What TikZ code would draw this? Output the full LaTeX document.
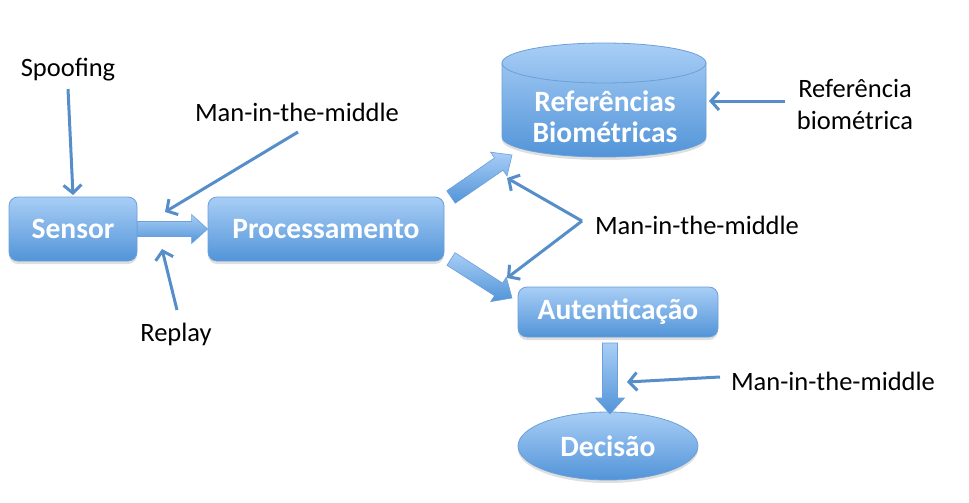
\documentclass[tikz,border=0pt]{standalone}
\usepackage{fontspec}
\setmainfont{Carlito}
\usetikzlibrary{arrows.meta,shadows,calc,shapes.geometric}
\definecolor{boxtop}{RGB}{168,206,246}
\definecolor{boxbot}{RGB}{82,148,216}
\definecolor{boxline}{RGB}{108,160,216}
\definecolor{arrowc}{RGB}{86,142,202}
\tikzset{
  boxfill/.style={top color=boxtop,bottom color=boxbot,draw=boxline,line width=0.8pt,
    drop shadow={shadow xshift=0pt,shadow yshift=-3pt,opacity=0.25}},
  boxtext/.style={font=\fontsize{29.5}{31}\selectfont\bfseries,text=white,inner sep=0pt},
  procbox/.style={boxfill,boxtext,rounded corners=9pt},
  lbl/.style={font=\fontsize{26.5}{32}\selectfont,text=black,align=center,inner sep=0pt},
  thinarrow/.style={draw=arrowc,line width=3pt,-{Straight Barb[length=8pt,width=18pt]}},
  blockarrow/.style={top color=boxtop,bottom color=boxbot,draw=boxline,line width=0.6pt}
}
\newcommand{\blockarr}[2]{%
  \coordinate (hb) at ($(#2)!16pt!(#1)$);
  \path[blockarrow] ($(#1)!7.5pt!90:(#2)$) -- ($(hb)!7.5pt!90:(#2)$) -- ($(hb)!14.5pt!90:(#2)$)
    -- (#2) -- ($(hb)!14.5pt!-90:(#2)$) -- ($(hb)!7.5pt!-90:(#2)$) -- ($(#1)!7.5pt!-90:(#2)$) -- cycle;}
\begin{document}
\begin{tikzpicture}[x=1pt,y=-1pt]
\useasboundingbox (0,0) rectangle (969,503);
% cylinder
\path[boxfill] (502,63) -- (502,137) arc[start angle=180,end angle=0,x radius=102,y radius=20]
  -- (706,63) arc[start angle=0,end angle=-180,x radius=102,y radius=20] -- cycle;
\draw[boxline,line width=0.8pt] (502,63) arc[start angle=180,end angle=0,x radius=102,y radius=20];
\node[boxtext,align=center] (ref) at (605,117) {Referências\\Biométricas};
% boxes
\node[procbox,minimum width=128,minimum height=64] (sensor) at (73,229) {Sensor};
\node[procbox,minimum width=236,minimum height=64] (proc) at (326,229) {Processamento};
\node[procbox,minimum width=200,minimum height=50] (auth) at (618,312) {Autenticação};
\node[boxfill,boxtext,ellipse,minimum width=180,minimum height=68] (dec) at (608,446) {Decisão};
% block arrows
\coordinate (bu1) at (451,197); \coordinate (bu2) at (512,155);
\coordinate (bd1) at (451,259); \coordinate (bd2) at (512,298);
\coordinate (bv1) at (610,343); \coordinate (bv2) at (610,414);
\blockarr{sensor.east}{proc.west}
\blockarr{bu1}{bu2}
\blockarr{bd1}{bd2}
\blockarr{bv1}{bv2}
% labels
\node[lbl] (spoof) at (68,70) {Spoofing};
\node[lbl] (mitma) at (297,112) {Man-in-the-middle};
\node[lbl] (replay) at (176,334) {Replay};
\node[lbl] (mitmb) at (697,225) {Man-in-the-middle};
\node[lbl] (mitmc) at (833,381) {Man-in-the-middle};
\node[lbl] (refbio) at (855,104) {Referência\\biométrica};
% thin arrows
\coordinate (spoofs) at (68,89); \coordinate (spoofe) at (73,195);
\coordinate (mas) at (298,132); \coordinate (mae) at (165,212);
\coordinate (rps) at (177,310); \coordinate (rpe) at (162,249);
\coordinate (mbs) at (582,221); \coordinate (mbe1) at (507,178); \coordinate (mbe2) at (507,278);
\coordinate (mcs) at (720,377); \coordinate (mce) at (627,382);
\coordinate (rbs) at (785,101); \coordinate (rbe) at (709,101);
\draw[thinarrow] (spoofs) -- (spoofe);
\draw[thinarrow] (mas) -- (mae);
\draw[thinarrow] (rps) -- (rpe);
\draw[thinarrow] (mbs) -- (mbe1);
\draw[thinarrow] (mbs) -- (mbe2);
\draw[thinarrow] (mcs) -- (mce);
\draw[thinarrow] (rbs) -- (rbe);
\end{tikzpicture}
\end{document}
